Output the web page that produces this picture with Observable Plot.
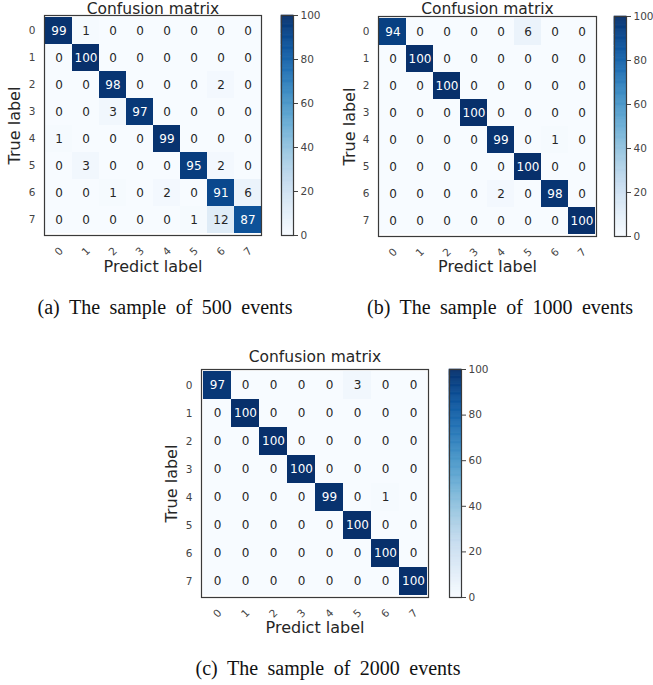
<!DOCTYPE html>
<html>
<head>
<meta charset="utf-8">
<script src="https://cdn.jsdelivr.net/npm/d3@7"></script>
<script src="https://cdn.jsdelivr.net/npm/@observablehq/plot@0.6"></script>
<style>
  html, body { margin: 0; padding: 0; background: #fff; }
  #root { position: relative; width: 653px; height: 685px; overflow: hidden; background: #fff; }
  #root > svg { position: absolute; }
  .cap { position: absolute; font-family: "Liberation Serif", "Times New Roman", serif; font-size: 20px; color: #111; white-space: nowrap; text-align: center; word-spacing: 4.5px; }
</style>
</head>
<body>
<div id="root"></div>
<script>
// ---------- data ----------
const classLabels = ["0", "1", "2", "3", "4", "5", "6", "7"];
const colorbarTicks = [0, 20, 40, 60, 80, 100];

const cm500 = [
  [99, 1, 0, 0, 0, 0, 0, 0],
  [0, 100, 0, 0, 0, 0, 0, 0],
  [0, 0, 98, 0, 0, 0, 2, 0],
  [0, 0, 3, 97, 0, 0, 0, 0],
  [1, 0, 0, 0, 99, 0, 0, 0],
  [0, 3, 0, 0, 0, 95, 2, 0],
  [0, 0, 1, 0, 2, 0, 91, 6],
  [0, 0, 0, 0, 0, 1, 12, 87]
];
const cm1000 = [
  [94, 0, 0, 0, 0, 6, 0, 0],
  [0, 100, 0, 0, 0, 0, 0, 0],
  [0, 0, 100, 0, 0, 0, 0, 0],
  [0, 0, 0, 100, 0, 0, 0, 0],
  [0, 0, 0, 0, 99, 0, 1, 0],
  [0, 0, 0, 0, 0, 100, 0, 0],
  [0, 0, 0, 0, 2, 0, 98, 0],
  [0, 0, 0, 0, 0, 0, 0, 100]
];
const cm2000 = [
  [97, 0, 0, 0, 0, 3, 0, 0],
  [0, 100, 0, 0, 0, 0, 0, 0],
  [0, 0, 100, 0, 0, 0, 0, 0],
  [0, 0, 0, 100, 0, 0, 0, 0],
  [0, 0, 0, 0, 99, 0, 1, 0],
  [0, 0, 0, 0, 0, 100, 0, 0],
  [0, 0, 0, 0, 0, 0, 100, 0],
  [0, 0, 0, 0, 0, 0, 0, 100]
];
const titleText = "Confusion matrix";
const xLabelText = "Predict label";
const yLabelText = "True label";
const captions = ["(a) The sample of 500 events", "(b) The sample of 1000 events", "(c) The sample of 2000 events"];

// ---------- helpers ----------
const FONT = "DejaVu Sans, Verdana, sans-serif";
const TICK = "#444444";
const INK = "#262626";
const root = document.getElementById("root");

function toTable(cm) {
  const rows = [];
  cm.forEach((r, i) => r.forEach((v, j) => rows.push({ t: classLabels[i], p: classLabels[j], v })));
  return rows;
}

function place(el, left, top) {
  el.style.left = left + "px";
  el.style.top = top + "px";
  root.appendChild(el);
}

function matrix(cm, g) {
  const data = toTable(cm);
  const thresh = d3.max(data, d => d.v) / 2;
  return Plot.plot({
    width: g.width, height: g.height,
    marginLeft: g.ml, marginRight: g.mr, marginTop: g.mt, marginBottom: g.mb,
    style: { fontFamily: FONT, fontSize: "10.5px", color: TICK, background: "transparent", overflow: "visible" },
    x: { domain: classLabels, padding: 0, axis: null },
    y: { domain: classLabels, padding: 0, tickSize: 0, tickPadding: 9, label: null },
    color: { type: "linear", scheme: "blues", domain: [0, 100] },
    marks: [
      Plot.cell(data, { x: "p", y: "t", fill: "v" }),
      Plot.text(data, { x: "p", y: "t", text: "v", filter: d => d.v > thresh, fill: "white", fontSize: 12 }),
      Plot.text(data, { x: "p", y: "t", text: "v", filter: d => d.v <= thresh, fill: INK, fontSize: 12 }),
      Plot.frame({ stroke: "#3a3a3a", strokeWidth: 1.2 }),
      // x tick labels (rotated 45°), positioned by the x band scale
      Plot.text(classLabels, { x: d => d, frameAnchor: "bottom", dy: g.xtDy, rotate: -45, textAnchor: "middle", lineAnchor: "middle", fill: TICK, fontSize: 10.5 }),
      Plot.text([titleText], { frameAnchor: "top", dy: -g.titleDy, lineAnchor: "middle", textAnchor: "middle", fontSize: 15.5, fill: INK }),
      Plot.text([xLabelText], { frameAnchor: "bottom", dy: g.xlDy, lineAnchor: "middle", textAnchor: "middle", fontSize: 16, fill: INK }),
      Plot.text([yLabelText], { frameAnchor: "left", dx: -g.ylDx, rotate: -90, lineAnchor: "middle", textAnchor: "middle", fontSize: 16, fill: INK })
    ]
  });
}

function colorbar(g) {
  const stops = d3.range(0, 100, 0.5);
  return Plot.plot({
    width: g.width, height: g.height,
    marginLeft: g.ml, marginRight: g.mr, marginTop: g.mt, marginBottom: g.mb,
    style: { fontFamily: FONT, fontSize: "10.5px", color: TICK, background: "transparent", overflow: "visible" },
    y: { domain: [0, 100], axis: "right", ticks: colorbarTicks, tickSize: 4, tickPadding: 3, label: null },
    color: { type: "linear", scheme: "blues", domain: [0, 100] },
    marks: [
      Plot.rect(stops, { y1: d => d, y2: d => d + 0.5, fill: d => d, stroke: d => d, strokeWidth: 0.6 }),
      Plot.frame({ stroke: "#3a3a3a", strokeWidth: 1.2 })
    ]
  });
}

// ---------- panel (a) ----------
place(matrix(cm500, { width: 270, height: 280, ml: 44, mr: 9, mt: 15, mb: 45, titleDy: 6.5, xtDy: 16, xlDy: 31.5, ylDx: 30 }), 0, 0);
place(colorbar({ width: 50, height: 280, ml: 11, mr: 27, mt: 15, mb: 45 }), 270, 0);
// ---------- panel (b) ----------
place(matrix(cm1000, { width: 280, height: 280, ml: 48, mr: 14, mt: 16, mb: 44, titleDy: 7.5, xtDy: 16, xlDy: 30.5, ylDx: 29 }), 330, 0);
place(colorbar({ width: 48, height: 280, ml: 10, mr: 26, mt: 16, mb: 44 }), 604, 0);
// ---------- panel (c) ----------
place(matrix(cm2000, { width: 290, height: 300, ml: 51, mr: 12, mt: 29, mb: 43, titleDy: 12, xtDy: 16, xlDy: 30, ylDx: 30 }), 150, 340);
place(colorbar({ width: 50, height: 300, ml: 9, mr: 29, mt: 29, mb: 43 }), 440, 340);

// ---------- captions ----------
function caption(text, cx, cy) {
  const d = document.createElement("div");
  d.className = "cap";
  d.textContent = text;
  root.appendChild(d);
  const r = d.getBoundingClientRect();
  d.style.left = (cx - r.width / 2) + "px";
  d.style.top = (cy - r.height / 2) + "px";
}
caption(captions[0], 165, 307);
caption(captions[1], 500, 307);
caption(captions[2], 328, 668);
</script>
</body>
</html>
